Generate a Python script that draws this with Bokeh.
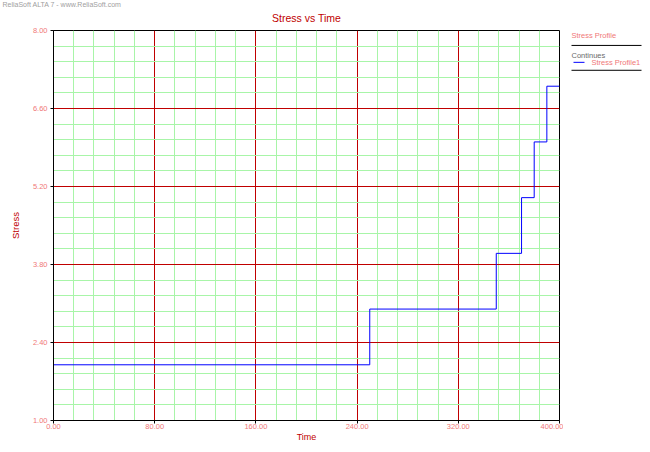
from bokeh.plotting import figure
from bokeh.layouts import row
from bokeh.models import Range1d, FixedTicker, PrintfTickFormatter, Title
from bokeh.core.properties import value
from bokeh.embed import file_html
from bokeh.resources import INLINE

# ---------------- data ----------------
time_points = [0, 250, 350, 370, 380, 390, 400]
stress_levels = [2.0, 3.0, 4.0, 5.0, 6.0, 7.0, 7.0]
x_ticks = [0, 80, 160, 240, 320, 400]
y_ticks = [1.0, 2.4, 3.8, 5.2, 6.6, 8.0]
series_name = "Stress Profile1"
legend_title = "Stress Profile"
legend_group = "Continues"
title_text = "Stress vs Time"
credit_text = "ReliaSoft ALTA 7 - www.ReliaSoft.com"

def subdivide(ticks, n=5):
    out = []
    for a, b in zip(ticks[:-1], ticks[1:]):
        step = (b - a) / n
        out += [a + step * k for k in range(1, n)]
    return out

x_minor = subdivide(x_ticks)
y_minor = subdivide(y_ticks)

FONT = "Liberation Sans"
TICK_COLOR = "#f07878"
DARKRED = "#c00000"
MAJOR = "#c00000"
MINOR = "#a8f5a8"

W, H = 642, 444
FL, FR, FT, FB = 53, 559, 30, 422  # frame edges in canvas px
MAIN_W = 563

p = figure(width=MAIN_W, height=H, output_backend="svg", toolbar_location=None,
           x_range=Range1d(x_ticks[0], x_ticks[-1]), y_range=Range1d(y_ticks[0], y_ticks[-1]),
           min_border_left=FL, min_border_right=MAIN_W - FR,
           min_border_top=FT, min_border_bottom=H - FB)
p.background_fill_color = "white"
p.border_fill_color = "white"
p.outline_line_color = "black"
p.outline_line_width = 1

# grids (major lines inside the frame only)
p.xgrid.ticker = FixedTicker(ticks=x_ticks[1:-1], minor_ticks=x_minor)
p.ygrid.ticker = FixedTicker(ticks=y_ticks[1:-1], minor_ticks=y_minor)
for g in (p.xgrid, p.ygrid):
    g.grid_line_color = MAJOR
    g.grid_line_width = 1
    g.minor_grid_line_color = MINOR
    g.minor_grid_line_width = 1

# axes
p.xaxis.ticker = FixedTicker(ticks=x_ticks)
p.yaxis.ticker = FixedTicker(ticks=y_ticks)
for ax in (p.xaxis, p.yaxis):
    ax.formatter = PrintfTickFormatter(format="%.2f")
    ax.axis_line_color = "black"
    ax.major_tick_line_color = "black"
    ax.major_tick_out = 3
    ax.major_tick_in = 0
    ax.minor_tick_line_color = None
    ax.major_label_text_color = TICK_COLOR
    ax.major_label_text_font = FONT
    ax.major_label_text_font_size = "7.5px"
    ax.axis_label_text_color = DARKRED
    ax.axis_label_text_font = FONT
    ax.axis_label_text_font_style = "normal"
    ax.axis_label_text_font_size = "9.5px"
p.xaxis.major_label_standoff = 0
p.xaxis.axis_label = "Time"
p.xaxis.axis_label_standoff = 0
p.xaxis.axis_label_text_font_size = "9px"
p.yaxis.major_label_standoff = 3
p.yaxis.axis_label = "Stress"
p.yaxis.axis_label_standoff = 9

# credit line is the plot's own (outermost) title
p.title.text = credit_text
p.title.align = "left"
p.title.offset = -(FL - 2)
p.title.standoff = -9
p.title.text_color = "#a0a0a0"
p.title.text_font = FONT
p.title.text_font_style = "normal"
p.title.text_font_size = "7px"

# chart title, next to the frame
p.add_layout(Title(text=title_text, align="center", standoff=13,
                   text_color=DARKRED, text_font=FONT, text_font_style="normal",
                   text_font_size="10.5px"), "above")

# series
p.step(time_points, stress_levels, mode="after", line_color="#0000ff", line_width=1)

# ---------------- legend panel ----------------
LW = W - MAIN_W
lg = figure(width=LW, height=H, output_backend="svg", toolbar_location=None,
            x_range=Range1d(MAIN_W, W), y_range=Range1d(FB, FT),
            x_axis_location=None, y_axis_location=None,
            min_border_left=0, min_border_right=0,
            min_border_top=FT, min_border_bottom=H - FB)
lg.outline_line_color = None
lg.xgrid.visible = False
lg.ygrid.visible = False
lg.background_fill_color = "white"
lg.border_fill_color = "white"

lx0, lx1 = 571, 641
lg.text(x=[lx0], y=[35], text=[legend_title], text_color=TICK_COLOR, text_font_size="7.5px",
        text_baseline="middle", text_font=value(FONT))
lg.segment(x0=[lx0, lx0], y0=[45, 70], x1=[lx1, lx1], y1=[45, 70], line_color="black", line_width=1)
lg.text(x=[lx0], y=[55], text=[legend_group], text_color="#6a6a6a", text_font_size="7.5px",
        text_baseline="middle", text_font=value(FONT))
lg.segment(x0=[573], y0=[62], x1=[584], y1=[62], line_color="#0000ff", line_width=1)
lg.text(x=[591], y=[62], text=[series_name], text_color=TICK_COLOR, text_font_size="7.5px",
        text_baseline="middle", text_font=value(FONT))

layout = row(p, lg, spacing=0)
open("out.html", "w").write(file_html(layout, INLINE))
